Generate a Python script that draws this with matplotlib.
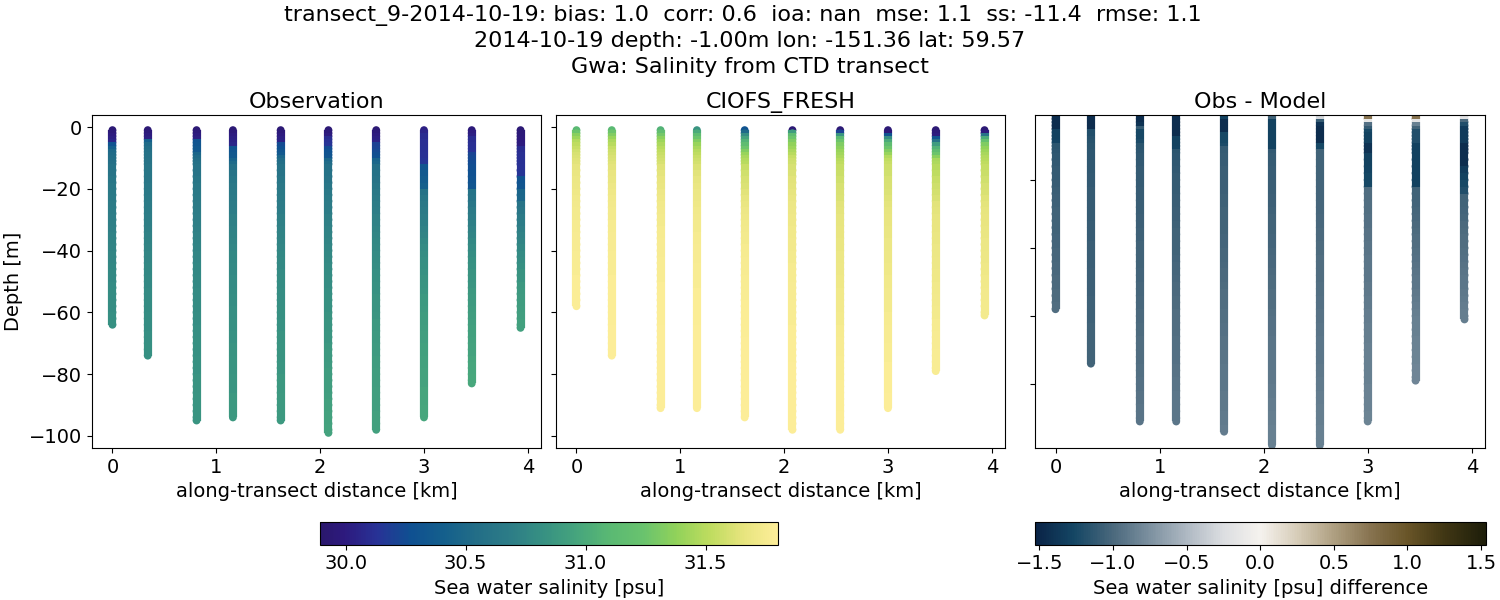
import matplotlib
matplotlib.use('Agg')
import matplotlib.pyplot as plt
from matplotlib.cm import ScalarMappable
from matplotlib.collections import LineCollection
from matplotlib.colors import LinearSegmentedColormap, Normalize

# along-transect distance of each cast [km]
distance = [0.0, 0.34, 0.81, 1.16, 1.62, 2.08, 2.54, 3.0, 3.46, 3.93]
# deepest point of each cast [m]
obs_bottom = [-64, -74, -95, -94, -95, -99, -98, -94, -83, -65]
model_bottom = [-58, -74, -91, -91, -94, -98, -98, -91, -79, -61]

# levels the profiles below are read at
depth_levels = [-1, -2, -3, -4, -5, -6, -7, -8, -9, -10, -11, -12, -14, -16, -18, -20, -22, -24, -26, -28,
                -30, -32, -34, -36, -38, -40, -42, -44, -46, -48, -50, -52, -54, -56, -58, -60, -62, -64,
                -66, -68, -70, -72, -74, -76, -78, -80, -82, -84, -86, -88, -90, -92, -94, -96, -98, -100]

obs_salinity = [
    [29.95, 29.97, 30.0, 30.02, 30.05, 30.3, 30.42, 30.5, 30.52, 30.54, 30.55, 30.56,
     30.58, 30.6, 30.62, 30.64, 30.65, 30.66, 30.67, 30.68, 30.69, 30.7, 30.71, 30.72, 30.73, 30.74,
     30.75, 30.75, 30.76, 30.77, 30.77, 30.78, 30.79, 30.79, 30.8, 30.8, 30.81, 30.82],
    [29.95, 29.97, 30.0, 30.02, 30.42, 30.52, 30.55, 30.57, 30.58, 30.59, 30.6, 30.6,
     30.61, 30.62, 30.63, 30.64, 30.65, 30.66, 30.67, 30.68, 30.69, 30.7, 30.71, 30.72, 30.73, 30.74,
     30.75, 30.75, 30.76, 30.76, 30.77, 30.77, 30.78, 30.78, 30.79, 30.79, 30.8, 30.8,
     30.8, 30.81, 30.81, 30.82, 30.82],
    [29.95, 29.97, 30.0, 30.02, 30.3, 30.32, 30.34, 30.36, 30.48, 30.52, 30.55, 30.57,
     30.59, 30.6, 30.62, 30.64, 30.65, 30.66, 30.67, 30.68, 30.69, 30.7, 30.71, 30.72, 30.73, 30.74,
     30.75, 30.75, 30.76, 30.76, 30.77, 30.77, 30.78, 30.78, 30.79, 30.79, 30.8, 30.8,
     30.81, 30.81, 30.82, 30.82, 30.82, 30.83, 30.83, 30.83, 30.84, 30.84, 30.84, 30.85, 30.85, 30.85, 30.85],
    [29.95, 29.97, 30.0, 30.02, 30.04, 30.06, 30.3, 30.32, 30.34, 30.36, 30.45, 30.5,
     30.56, 30.6, 30.62, 30.64, 30.65, 30.66, 30.67, 30.68, 30.7, 30.71, 30.72, 30.73, 30.74, 30.75,
     30.76, 30.76, 30.77, 30.77, 30.78, 30.78, 30.79, 30.8, 30.8, 30.81, 30.81, 30.82,
     30.82, 30.83, 30.83, 30.84, 30.84, 30.85, 30.85, 30.85, 30.86, 30.86, 30.86, 30.87, 30.87, 30.87, 30.87],
    [29.95, 29.97, 30.0, 30.02, 30.04, 30.25, 30.28, 30.32, 30.35, 30.48, 30.53, 30.55,
     30.58, 30.6, 30.62, 30.64, 30.65, 30.66, 30.67, 30.68, 30.7, 30.71, 30.72, 30.73, 30.74, 30.75,
     30.76, 30.77, 30.77, 30.78, 30.79, 30.79, 30.8, 30.8, 30.81, 30.82, 30.82, 30.83,
     30.83, 30.84, 30.84, 30.85, 30.85, 30.85, 30.86, 30.86, 30.87, 30.87, 30.87, 30.88, 30.88, 30.88, 30.88],
    [29.95, 29.97, 30.0, 30.1, 30.12, 30.14, 30.25, 30.28, 30.3, 30.32, 30.48, 30.52,
     30.56, 30.58, 30.6, 30.62, 30.64, 30.66, 30.67, 30.68, 30.7, 30.71, 30.72, 30.73, 30.74, 30.75,
     30.76, 30.77, 30.78, 30.79, 30.8, 30.8, 30.81, 30.82, 30.83, 30.83, 30.84, 30.85,
     30.85, 30.86, 30.86, 30.87, 30.88, 30.88, 30.89, 30.9, 30.9, 30.91, 30.91, 30.92, 30.93, 30.93, 30.94, 30.94, 30.95],
    [29.95, 29.97, 30.0, 30.02, 30.04, 30.2, 30.22, 30.24, 30.26, 30.28, 30.45, 30.48,
     30.55, 30.58, 30.6, 30.62, 30.64, 30.66, 30.68, 30.69, 30.71, 30.72, 30.74, 30.75, 30.76, 30.77,
     30.78, 30.79, 30.8, 30.81, 30.82, 30.83, 30.83, 30.84, 30.85, 30.85, 30.86, 30.87,
     30.87, 30.88, 30.88, 30.89, 30.89, 30.9, 30.9, 30.91, 30.91, 30.91, 30.92, 30.92, 30.92, 30.92, 30.93, 30.93, 30.93],
    [30.02, 30.06, 30.1, 30.1, 30.11, 30.11, 30.12, 30.12, 30.13, 30.13, 30.14, 30.15,
     30.32, 30.35, 30.38, 30.42, 30.58, 30.62, 30.64, 30.66, 30.68, 30.7, 30.72, 30.74, 30.76, 30.78,
     30.8, 30.81, 30.82, 30.83, 30.84, 30.85, 30.86, 30.87, 30.88, 30.89, 30.9, 30.9,
     30.91, 30.92, 30.92, 30.93, 30.93, 30.94, 30.94, 30.95, 30.95, 30.95, 30.96, 30.96, 30.96, 30.97, 30.97],
    [29.97, 30.0, 30.02, 30.1, 30.1, 30.11, 30.12, 30.13, 30.22, 30.23, 30.24, 30.25,
     30.26, 30.28, 30.3, 30.32, 30.58, 30.6, 30.63, 30.66, 30.68, 30.7, 30.72, 30.74, 30.76, 30.78,
     30.8, 30.82, 30.83, 30.84, 30.85, 30.86, 30.87, 30.88, 30.89, 30.9, 30.91, 30.92,
     30.93, 30.93, 30.94, 30.95, 30.95, 30.96, 30.97, 30.97, 30.98],
    [29.95, 29.96, 29.97, 29.98, 29.99, 30.0, 30.1, 30.1, 30.11, 30.11, 30.12, 30.12,
     30.13, 30.14, 30.3, 30.32, 30.46, 30.48, 30.6, 30.63, 30.66, 30.68, 30.7, 30.72, 30.74, 30.76,
     30.78, 30.8, 30.82, 30.84, 30.85, 30.87, 30.88, 30.89, 30.9, 30.91, 30.92, 30.93],
]

model_salinity = [
    [31.1, 31.25, 31.35, 31.42, 31.48, 31.52, 31.55, 31.58, 31.6, 31.62, 31.63, 31.64,
     31.66, 31.68, 31.69, 31.7, 31.71, 31.72, 31.73, 31.74, 31.74, 31.75, 31.75, 31.76, 31.76, 31.76,
     31.77, 31.77, 31.77, 31.77, 31.78, 31.78, 31.78, 31.78, 31.78],
    [31.1, 31.25, 31.33, 31.4, 31.46, 31.5, 31.54, 31.57, 31.59, 31.61, 31.62, 31.63,
     31.65, 31.67, 31.68, 31.7, 31.71, 31.72, 31.73, 31.74, 31.74, 31.75, 31.75, 31.76, 31.76, 31.76,
     31.77, 31.77, 31.77, 31.77, 31.78, 31.78, 31.78, 31.78, 31.78, 31.78, 31.78, 31.78,
     31.79, 31.79, 31.79, 31.79, 31.79],
    [31.05, 31.18, 31.28, 31.36, 31.42, 31.46, 31.5, 31.53, 31.55, 31.57, 31.59, 31.6,
     31.63, 31.65, 31.67, 31.68, 31.7, 31.71, 31.72, 31.73, 31.74, 31.74, 31.75, 31.75, 31.76, 31.76,
     31.76, 31.77, 31.77, 31.77, 31.77, 31.78, 31.78, 31.78, 31.78, 31.78, 31.78, 31.78,
     31.79, 31.79, 31.79, 31.79, 31.79, 31.79, 31.79, 31.79, 31.79, 31.79, 31.79, 31.79, 31.79],
    [30.85, 31.0, 31.15, 31.25, 31.33, 31.4, 31.45, 31.49, 31.52, 31.55, 31.57, 31.59,
     31.62, 31.64, 31.66, 31.68, 31.69, 31.7, 31.71, 31.72, 31.73, 31.74, 31.74, 31.75, 31.75, 31.76,
     31.76, 31.76, 31.77, 31.77, 31.77, 31.77, 31.78, 31.78, 31.78, 31.78, 31.78, 31.78,
     31.79, 31.79, 31.79, 31.79, 31.79, 31.79, 31.79, 31.79, 31.79, 31.79, 31.79, 31.79, 31.79],
    [30.3, 30.5, 30.8, 30.95, 31.05, 31.15, 31.25, 31.33, 31.4, 31.45, 31.48, 31.5,
     31.55, 31.58, 31.6, 31.62, 31.64, 31.66, 31.68, 31.7, 31.71, 31.72, 31.73, 31.74, 31.74, 31.75,
     31.75, 31.76, 31.76, 31.76, 31.77, 31.77, 31.77, 31.77, 31.78, 31.78, 31.78, 31.78,
     31.78, 31.78, 31.79, 31.79, 31.79, 31.79, 31.79, 31.79, 31.79, 31.79, 31.79, 31.79, 31.79, 31.79, 31.79],
    [29.95, 30.9, 31.15, 31.25, 31.32, 31.38, 31.42, 31.46, 31.5, 31.54, 31.57, 31.58,
     31.6, 31.62, 31.64, 31.65, 31.66, 31.68, 31.69, 31.7, 31.71, 31.71, 31.72, 31.72, 31.73, 31.73,
     31.74, 31.74, 31.75, 31.75, 31.75, 31.76, 31.76, 31.76, 31.77, 31.77, 31.77, 31.77,
     31.78, 31.78, 31.78, 31.78, 31.78, 31.78, 31.79, 31.79, 31.79, 31.79, 31.79, 31.79, 31.79, 31.79, 31.79, 31.79, 31.79],
    [29.95, 30.2, 30.85, 31.1, 31.25, 31.32, 31.36, 31.4, 31.43, 31.46, 31.5, 31.52,
     31.54, 31.56, 31.58, 31.6, 31.61, 31.62, 31.64, 31.65, 31.66, 31.66, 31.67, 31.67, 31.68, 31.68,
     31.69, 31.69, 31.7, 31.7, 31.71, 31.71, 31.72, 31.72, 31.73, 31.73, 31.74, 31.74,
     31.75, 31.75, 31.76, 31.76, 31.76, 31.77, 31.77, 31.77, 31.77, 31.78, 31.78, 31.78, 31.78, 31.78, 31.79, 31.79, 31.79],
    [29.95, 29.97, 30.3, 30.8, 31.0, 31.15, 31.25, 31.33, 31.4, 31.48, 31.53, 31.55,
     31.57, 31.58, 31.6, 31.61, 31.62, 31.63, 31.65, 31.66, 31.67, 31.67, 31.68, 31.68, 31.69, 31.69,
     31.7, 31.7, 31.71, 31.71, 31.72, 31.72, 31.73, 31.73, 31.74, 31.74, 31.75, 31.75,
     31.76, 31.76, 31.76, 31.77, 31.77, 31.77, 31.78, 31.78, 31.78, 31.78, 31.78, 31.79, 31.79],
    [29.95, 29.97, 30.0, 30.3, 30.6, 30.9, 31.05, 31.15, 31.25, 31.35, 31.45, 31.47,
     31.5, 31.52, 31.55, 31.57, 31.59, 31.61, 31.64, 31.65, 31.66, 31.67, 31.67, 31.68, 31.68, 31.69,
     31.69, 31.7, 31.7, 31.71, 31.71, 31.72, 31.72, 31.73, 31.73, 31.74, 31.74, 31.75,
     31.75, 31.76, 31.76, 31.76, 31.77, 31.77, 31.77],
    [29.95, 29.98, 30.6, 31.0, 31.2, 31.32, 31.38, 31.42, 31.45, 31.48, 31.5, 31.52,
     31.54, 31.56, 31.58, 31.6, 31.61, 31.63, 31.65, 31.66, 31.67, 31.67, 31.68, 31.68, 31.69, 31.69,
     31.7, 31.7, 31.71, 31.71, 31.72, 31.72, 31.73, 31.73, 31.74, 31.74],
]

salinity_diff = [
    [-1.45, -1.45, -1.45, -1.45, -1.45, -1.3, -1.3, -1.3, -1.28, -1.15, -1.15, -1.14,
     -1.13, -1.12, -1.11, -1.1, -1.09, -1.08, -1.07, -1.06, -1.05, -1.05, -1.04, -1.04, -1.03, -1.03,
     -1.02, -1.02, -1.01, -1.01, -1.0, -1.0, -0.99, -0.99, -0.98],
    [-1.45, -1.45, -1.45, -1.45, -1.45, -1.2, -1.2, -1.18, -1.17, -1.15, -1.15, -1.14,
     -1.14, -1.13, -1.13, -1.12, -1.12, -1.11, -1.11, -1.1, -1.1, -1.1, -1.09, -1.09, -1.09, -1.08,
     -1.08, -1.08, -1.08, -1.07, -1.07, -1.07, -1.07, -1.06, -1.06, -1.06, -1.06, -1.05,
     -1.05, -1.05, -1.05, -1.05, -1.04],
    [-1.45, -1.45, -1.45, -1.4, -1.1, -1.25, -1.25, -1.25, -1.22, -1.15, -1.15, -1.14,
     -1.13, -1.12, -1.11, -1.1, -1.1, -1.09, -1.09, -1.08, -1.08, -1.07, -1.07, -1.06, -1.06, -1.05,
     -1.05, -1.04, -1.04, -1.03, -1.03, -1.02, -1.02, -1.01, -1.01, -1.0, -1.0, -0.99,
     -0.99, -0.98, -0.98, -0.97, -0.97, -0.96, -0.96, -0.95, -0.95, -0.94, -0.94, -0.93, -0.93],
    [-1.45, -1.45, -1.45, -1.45, -1.45, -1.45, -1.45, -1.3, -1.3, -1.3, -1.28, -1.15,
     -1.14, -1.13, -1.12, -1.11, -1.1, -1.1, -1.09, -1.08, -1.07, -1.07, -1.06, -1.05, -1.05, -1.04,
     -1.04, -1.03, -1.02, -1.02, -1.01, -1.0, -1.0, -0.99, -0.99, -0.98, -0.98, -0.97,
     -0.97, -0.96, -0.96, -0.95, -0.95, -0.94, -0.94, -0.93, -0.93, -0.92, -0.92, -0.92, -0.91],
    [-1.3, -1.3, -1.45, -1.45, -1.45, -1.45, -1.25, -1.25, -1.25, -1.22, -1.1, -1.1,
     -1.09, -1.09, -1.08, -1.08, -1.07, -1.07, -1.06, -1.06, -1.05, -1.05, -1.04, -1.04, -1.03, -1.03,
     -1.02, -1.02, -1.01, -1.0, -1.0, -0.99, -0.98, -0.98, -0.97, -0.96, -0.96, -0.95,
     -0.95, -0.94, -0.94, -0.93, -0.93, -0.92, -0.92, -0.91, -0.91, -0.9, -0.9, -0.9, -0.89, -0.89, -0.88],
    [-1.05, -1.05, -1.3, -1.3, -1.3, -1.3, -1.3, -1.3, -1.3, -1.3, -1.3, -1.12,
     -1.1, -1.1, -1.09, -1.09, -1.08, -1.08, -1.07, -1.07, -1.06, -1.05, -1.05, -1.04, -1.03, -1.03,
     -1.02, -1.01, -1.01, -1.0, -0.99, -0.99, -0.98, -0.97, -0.97, -0.96, -0.95, -0.95,
     -0.94, -0.93, -0.93, -0.92, -0.92, -0.91, -0.9, -0.9, -0.89, -0.89, -0.88, -0.88, -0.87, -0.87, -0.86, -0.86, -0.85],
    [-0.3, -0.3, -1.1, -1.4, -1.45, -1.45, -1.45, -1.45, -1.45, -1.25, -1.25, -1.05,
     -1.05, -1.05, -1.04, -1.04, -1.03, -1.03, -1.03, -1.02, -1.02, -1.01, -1.01, -1.0, -1.0, -0.99,
     -0.99, -0.98, -0.98, -0.97, -0.97, -0.96, -0.96, -0.95, -0.95, -0.94, -0.94, -0.93,
     -0.93, -0.92, -0.92, -0.91, -0.91, -0.9, -0.9, -0.89, -0.89, -0.88, -0.88, -0.87, -0.87, -0.87, -0.86, -0.86, -0.85],
    [0.75, 0.75, -0.15, -0.95, -1.1, -1.25, -1.3, -1.3, -1.3, -1.4, -1.4, -1.4,
     -1.3, -1.3, -1.28, -1.26, -1.25, -0.98, -0.97, -0.96, -0.96, -0.95, -0.95, -0.94, -0.94, -0.93,
     -0.93, -0.92, -0.92, -0.91, -0.91, -0.9, -0.9, -0.89, -0.89, -0.88, -0.88, -0.87,
     -0.87, -0.87, -0.86, -0.86, -0.86, -0.85, -0.85, -0.85, -0.84, -0.84, -0.84, -0.84, -0.83],
    [0.75, 0.75, -0.2, -0.85, -1.05, -1.2, -1.2, -1.2, -1.2, -1.3, -1.3, -1.3,
     -1.3, -1.3, -1.3, -1.3, -1.3, -1.05, -1.04, -1.03, -1.02, -1.01, -1.0, -0.99, -0.98, -0.97,
     -0.96, -0.95, -0.94, -0.93, -0.92, -0.91, -0.9, -0.89, -0.88, -0.87, -0.86, -0.85,
     -0.85, -0.84, -0.84, -0.83, -0.83, -0.82, -0.82],
    [-0.2, -0.2, -1.0, -1.2, -1.35, -1.35, -1.35, -1.35, -1.35, -1.45, -1.45, -1.45,
     -1.45, -1.45, -1.35, -1.3, -1.25, -1.2, -1.05, -1.04, -1.03, -1.02, -1.0, -0.99, -0.98, -0.97,
     -0.96, -0.95, -0.94, -0.93, -0.92, -0.91, -0.9, -0.89, -0.88, -0.87],
]

ylabel = 'Depth [m]'
xlabel = 'along-transect distance [km]'
panel_titles = ['Observation', 'CIOFS_FRESH', 'Obs - Model']
suptitle = ('transect_9-2014-10-19: bias: 1.0  corr: 0.6  ioa: nan  mse: 1.1  ss: -11.4  rmse: 1.1  \n'
            '2014-10-19 depth: -1.00m lon: -151.36 lat: 59.57\n'
            'Gwa: Salinity from CTD transect')

# approximations of the cmocean haline and diff maps, package not available
haline = LinearSegmentedColormap.from_list('haline', [
    (0.0, (42/255, 24/255, 108/255)), (0.05, (45/255, 25/255, 125/255)), (0.124, (40/255, 50/255, 150/255)),
    (0.197, (15/255, 80/255, 145/255)), (0.27, (20/255, 95/255, 140/255)), (0.343, (35/255, 110/255, 135/255)),
    (0.416, (45/255, 125/255, 135/255)), (0.49, (55/255, 145/255, 130/255)), (0.562, (70/255, 165/255, 125/255)),
    (0.635, (90/255, 185/255, 115/255)), (0.708, (105/255, 195/255, 110/255)), (0.78, (145/255, 210/255, 90/255)),
    (0.853, (190/255, 220/255, 95/255)), (0.925, (230/255, 228/255, 125/255)), (1.0, (253/255, 238/255, 153/255))])
diff = LinearSegmentedColormap.from_list('diff', [
    (0.0, (10/255, 35/255, 70/255)), (0.085, (20/255, 70/255, 100/255)), (0.173, (75/255, 105/255, 125/255)),
    (0.255, (125/255, 145/255, 160/255)), (0.337, (175/255, 185/255, 195/255)), (0.418, (220/255, 222/255, 225/255)),
    (0.5, (245/255, 242/255, 238/255)), (0.582, (215/255, 205/255, 185/255)), (0.663, (175/255, 160/255, 130/255)),
    (0.745, (135/255, 115/255, 80/255)), (0.827, (105/255, 85/255, 40/255)), (0.908, (65/255, 55/255, 20/255)),
    (1.0, (30/255, 30/255, 10/255))])
sal_norm = Normalize(29.893, 31.8)
diff_norm = Normalize(-1.53, 1.53)

plt.rcParams['font.size'] = 14


def panel_axes(fig, left, right, bottom=448, top=115):
    return fig.add_axes([left / 1500, 1 - bottom / 600, (right - left) / 1500, (bottom - top) / 600])


# draw each cast shallow to deep so deeper dots sit on top
def plot_casts(ax, bottoms, profiles, cmap, norm):
    for x, bottom, values in zip(distance, bottoms, profiles):
        z = [d for d, v in zip(depth_levels, values) if d > bottom] + [bottom]
        c = [v for d, v in zip(depth_levels, values) if d > bottom] + [values[-1]]
        ax.scatter([x] * len(z), z, c=c, cmap=cmap, norm=norm, s=32, linewidths=0)
        # strip over the dots so the levels read as one continuous column
        segments = [[(x, z[i]), (x, z[i + 1])] for i in range(len(z) - 1)]
        strip = LineCollection(segments, array=c[1:], cmap=cmap, norm=norm, linewidths=5.9, capstyle='butt', zorder=2)
        ax.add_collection(strip)
    ax.set_xlim(-0.197, 4.127)
    ax.set_xticks([0, 1, 2, 3, 4])
    ax.set_xlabel(xlabel)


fig = plt.figure(figsize=(15, 6), dpi=100)

ax_obs = panel_axes(fig, 92, 541)
plot_casts(ax_obs, obs_bottom, obs_salinity, haline, sal_norm)
ax_obs.set_ylim(-103.9, 3.9)
ax_obs.set_yticks([0, -20, -40, -60, -80, -100])
ax_obs.set_yticklabels(['0', '\u221220', '\u221240', '\u221260', '\u221280', '\u2212100'])
ax_obs.set_ylabel(ylabel)
ax_obs.set_title(panel_titles[0], fontsize=16, pad=5)

ax_model = panel_axes(fig, 556, 1005)
plot_casts(ax_model, model_bottom, model_salinity, haline, sal_norm)
ax_model.set_ylim(-103.9, 3.9)
ax_model.set_yticks([0, -20, -40, -60, -80, -100])
ax_model.set_yticklabels([])
ax_model.set_title(panel_titles[1], fontsize=16, pad=5)

ax_diff = panel_axes(fig, 1035, 1485)
plot_casts(ax_diff, model_bottom, salinity_diff, diff, diff_norm)
ax_diff.set_ylim(-98.8, -0.9)
ax_diff.set_yticks([-20, -40, -60, -80])
ax_diff.set_yticklabels([])
ax_diff.set_title(panel_titles[2], fontsize=16, pad=5)

cax1 = panel_axes(fig, 320, 777.5, bottom=544.5, top=522)
cb1 = fig.colorbar(ScalarMappable(sal_norm, haline), cax=cax1, orientation='horizontal')
cb1.set_ticks([30.0, 30.5, 31.0, 31.5])
cb1.set_label('Sea water salinity [psu]')

cax2 = panel_axes(fig, 1035, 1485.5, bottom=544.5, top=522)
cb2 = fig.colorbar(ScalarMappable(diff_norm, diff), cax=cax2, orientation='horizontal')
cb2.set_ticks([-1.5, -1.0, -0.5, 0.0, 0.5, 1.0, 1.5])
cb2.set_label('Sea water salinity [psu] difference')

fig.suptitle(suptitle, fontsize=16, x=0.5, y=0.992, va='top', linespacing=1.35)

plt.savefig('out.png', dpi=100)
